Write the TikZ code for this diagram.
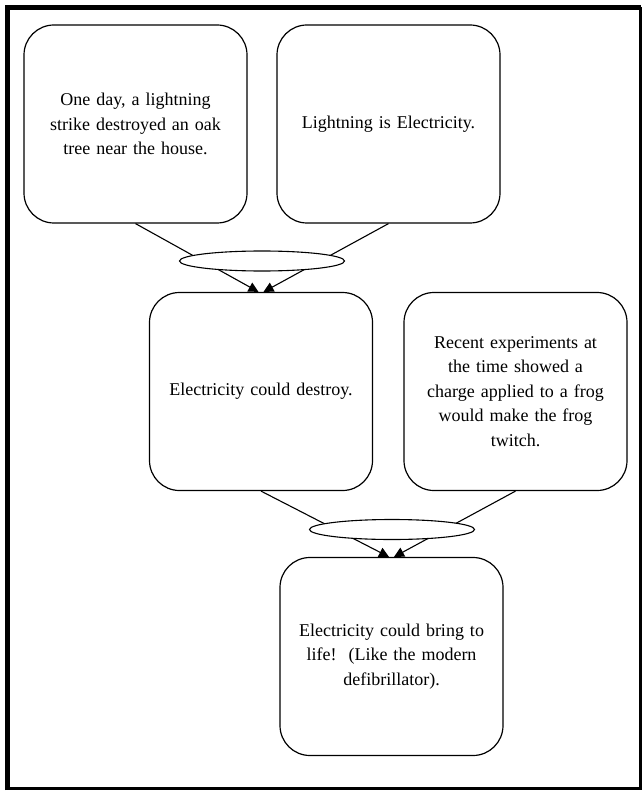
\documentclass[tikz,border=0pt]{standalone}
\usepackage{fontspec}
\setmainfont{Liberation Serif}
\usetikzlibrary{calc,shapes.geometric,arrows.meta}
\begin{document}
\begin{tikzpicture}[x=1pt,y=-1pt,
  card/.style={draw,line width=1.2pt,rounded corners=30pt,minimum width=223pt,minimum height=198pt,
    align=center,text width=210pt,font=\fontsize{18}{24.5}\selectfont,inner sep=0pt},
  link/.style={draw,line width=1.1pt,-{Triangle[width=10pt,length=10pt]}},
  junction/.style={draw,ellipse,fill=white,line width=1.1pt,minimum width=165pt,minimum height=20pt,inner sep=0pt}]
  \useasboundingbox (0,0) rectangle (644,791);
  % outer frame: heavier on the top and left
  \draw[line width=5pt] (7.5,790) -- (7.5,7.5) -- (641,7.5);
  \draw[line width=2.5pt] (640.5,7.5) -- (640.5,788.5) -- (7.5,788.5);

  \node[card] (b1) at (135.5,124) {One day, a lightning\\strike destroyed an oak\\tree near the house.};
  \node[card] (b2) at (388.5,124) {Lightning is Electricity.};
  \node[card] (b3) at (261,391.5) {Electricity could destroy.};
  \node[card] (b4) at (515.5,391.5) {Recent experiments at\\the time showed a\\charge applied to a frog\\would make the frog\\twitch.};
  \node[card] (b5) at (391.5,656.5) {Electricity could bring to\\life!\ \ (Like the modern\\defibrillator).};

  \draw[link] (b1.south) -- ($(b3.north)+(-2.5,0)$);
  \draw[link] (b2.south) -- ($(b3.north)+(2.5,0)$);
  \draw[link] (b3.south) -- ($(b5.north)+(-2.5,0)$);
  \draw[link] (b4.south) -- ($(b5.north)+(2.5,0)$);

  \node[junction] (e1) at (262,261) {};
  \node[junction] (e2) at (392,529.5) {};
\end{tikzpicture}
\end{document}
